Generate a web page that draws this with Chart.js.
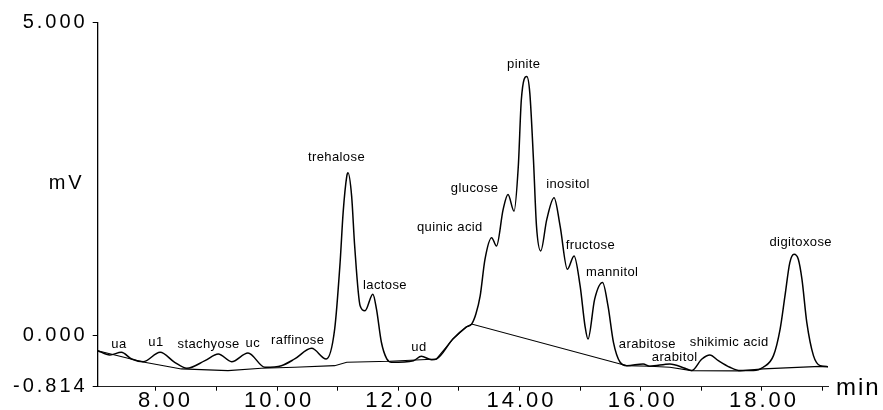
<!DOCTYPE html>
<html>
<head>
<meta charset="utf-8">
<script src="https://cdn.jsdelivr.net/npm/chart.js@4.4.1/dist/chart.umd.min.js"></script>
<style>
  html, body { margin: 0; padding: 0; background: #fff; }
  #wrap { width: 883px; height: 410px; position: relative; }
</style>
</head>
<body>
<div id="wrap"><canvas id="c" width="883" height="410"></canvas></div>
<script>
// ---- data ----
const sigTime = [7.04,7.24,7.43,7.60,7.79,8.07,8.31,8.51,8.81,9.03,
  9.25,9.52,9.80,10.07,10.29,10.57,10.81,10.95,11.04,11.09,
  11.15,11.17,11.23,11.28,11.37,11.45,11.58,11.64,11.72,11.81,
  11.89,12.25,12.38,12.55,12.63,12.90,13.12,13.21,13.28,13.35,
  13.43,13.54,13.62,13.73,13.81,13.91,13.98,14.03,14.12,14.17,
  14.23,14.28,14.35,14.45,14.57,14.67,14.79,14.90,15.00,15.08,
  15.13,15.24,15.37,15.46,15.55,15.66,15.77,16.04,16.15,16.48,
  16.73,16.84,17.01,17.14,17.28,17.47,17.64,17.86,18.02,18.19,
  18.30,18.38,18.46,18.53,18.60,18.66,18.74,18.85,18.96,19.09];
const sigMv = [-0.239,-0.307,-0.264,-0.371,-0.414,-0.264,-0.424,-0.519,-0.398,-0.291,
  -0.414,-0.275,-0.503,-0.478,-0.371,-0.201,-0.371,0.107,1.174,1.970,
  2.548,2.602,2.229,1.433,0.478,0.398,0.664,0.425,-0.100,-0.371,
  -0.424,-0.398,-0.328,-0.382,-0.371,-0.053,0.139,0.186,0.346,0.632,
  1.221,1.567,1.433,2.018,2.256,1.990,2.707,3.769,4.140,3.876,
  2.814,1.752,1.354,1.858,2.204,1.752,1.062,1.274,0.796,0.159,
  -0.053,0.584,0.850,0.478,-0.105,-0.424,-0.478,-0.451,-0.487,-0.451,
  -0.519,-0.557,-0.371,-0.307,-0.398,-0.503,-0.557,-0.557,-0.503,-0.318,
  0.107,0.637,1.169,1.301,1.221,0.903,0.213,-0.318,-0.478,-0.494];

const baseTime = [7.04,7.79,8.42,9.19,9.74,10.29,10.95,11.15,11.86,12.63,12.90,13.12,13.21,15.77,16.15,16.48,16.84,17.64,18.02,18.96,19.09];
const baseMv   = [-0.239,-0.419,-0.530,-0.557,-0.519,-0.503,-0.478,-0.424,-0.408,-0.371,-0.053,0.139,0.186,-0.478,-0.487,-0.503,-0.557,-0.562,-0.530,-0.490,-0.494];

const peakNames  = ['ua','u1','stachyose','uc','raffinose','trehalose','lactose','ud','quinic acid','glucose','pinite','inositol','fructose','mannitol','arabitose','arabitol','shikimic acid','digitoxose'];
const peakLabelT = [7.39,8.00,8.87,9.60,10.34,10.98,11.78,12.34,12.85,13.26,14.07,14.80,15.17,15.53,16.11,16.56,17.46,18.64];
const peakLabelV = [-0.188,-0.159,-0.196,-0.185,-0.132,2.787,0.744,-0.239,1.667,2.296,4.274,2.363,1.381,0.955,-0.201,-0.398,-0.159,1.433];

const xTickValues = [8,9,10,11,12,13,14,15,16,17,18,19];
const xTickLabels = ['8.00','','10.00','','12.00','','14.00','','16.00','','18.00',''];
const yTickValues = [-0.814, 0, 5];
const yTickLabels = ['-0.814','0.000','5.000'];
const yUnitLabel = 'mV';
const yUnitValue = 2.336;
const xUnitLabel = 'min';

// ---- chart ----
const FONT = "'Liberation Sans', Arial, sans-serif";

const textPlugin = {
  id: 'chromText',
  beforeDraw(chart) { chart.ctx.letterSpacing = '3px'; },
  afterDraw(chart) {
    const { ctx, chartArea } = chart;
    const xs = chart.scales.x, ys = chart.scales.y;
    ctx.save();
    ctx.fillStyle = '#000';
    ctx.letterSpacing = '0.4px';
    ctx.font = '13px ' + FONT;
    ctx.textAlign = 'center';
    ctx.textBaseline = 'alphabetic';
    peakNames.forEach((n, i) => {
      ctx.fillText(n, xs.getPixelForValue(peakLabelT[i]), ys.getPixelForValue(peakLabelV[i]));
    });
    ctx.letterSpacing = '3px';
    ctx.font = '20px ' + FONT;
    ctx.textAlign = 'right';
    ctx.fillText(yUnitLabel, chartArea.left - 13, ys.getPixelForValue(yUnitValue));
    ctx.letterSpacing = '2px';
    ctx.font = '24px ' + FONT;
    ctx.textAlign = 'left';
    ctx.fillText(xUnitLabel, chartArea.right + 8, chartArea.bottom + 8.5);
    ctx.restore();
    ctx.letterSpacing = '0px';
  }
};

new Chart(document.getElementById('c'), {
  type: 'line',
  data: {
    datasets: [
      {
        label: 'signal',
        data: sigTime.map((t, i) => ({ x: t, y: sigMv[i] })),
        borderColor: '#000',
        borderWidth: 1.5,
        pointRadius: 0,
        cubicInterpolationMode: 'monotone',
        fill: false
      },
      {
        label: 'baseline',
        data: baseTime.map((t, i) => ({ x: t, y: baseMv[i] })),
        borderColor: '#000',
        borderWidth: 1.1,
        pointRadius: 0,
        tension: 0,
        fill: false
      }
    ]
  },
  options: {
    responsive: false,
    devicePixelRatio: 1,
    animation: false,
    layout: { padding: { left: 0, right: 55, top: 22.7, bottom: 0 } },
    plugins: { legend: { display: false }, tooltip: { enabled: false } },
    scales: {
      x: {
        type: 'linear',
        min: 7.04,
        max: 19.09,
        afterBuildTicks: s => { s.ticks = xTickValues.map(v => ({ value: v })); },
        afterFit: s => { s.height = 23.3; },
        ticks: {
          autoSkip: false,
          maxRotation: 0,
          padding: -3,
          labelOffset: 2,
          color: '#000',
          font: { family: FONT, size: 22 },
          callback: (v, i) => {
            const l = xTickLabels[i] || '';
            return (l && l.split('.')[0].length < 2) ? '\u2007' + l : l;
          }
        },
        grid: { drawOnChartArea: false, tickLength: 4, color: '#000' },
        border: { color: '#222', width: 1 }
      },
      y: {
        type: 'linear',
        min: -0.814,
        max: 5,
        afterBuildTicks: s => { s.ticks = yTickValues.map(v => ({ value: v })); },
        afterFit: s => { s.width = 97.7; },
        ticks: {
          autoSkip: false,
          padding: 5,
          color: '#000',
          font: { family: FONT, size: 20 },
          callback: (v, i) => yTickLabels[i]
        },
        grid: { drawOnChartArea: false, tickLength: 5, color: '#000' },
        border: { color: '#000', width: 1.3 }
      }
    }
  },
  plugins: [textPlugin]
});
</script>
</body>
</html>
